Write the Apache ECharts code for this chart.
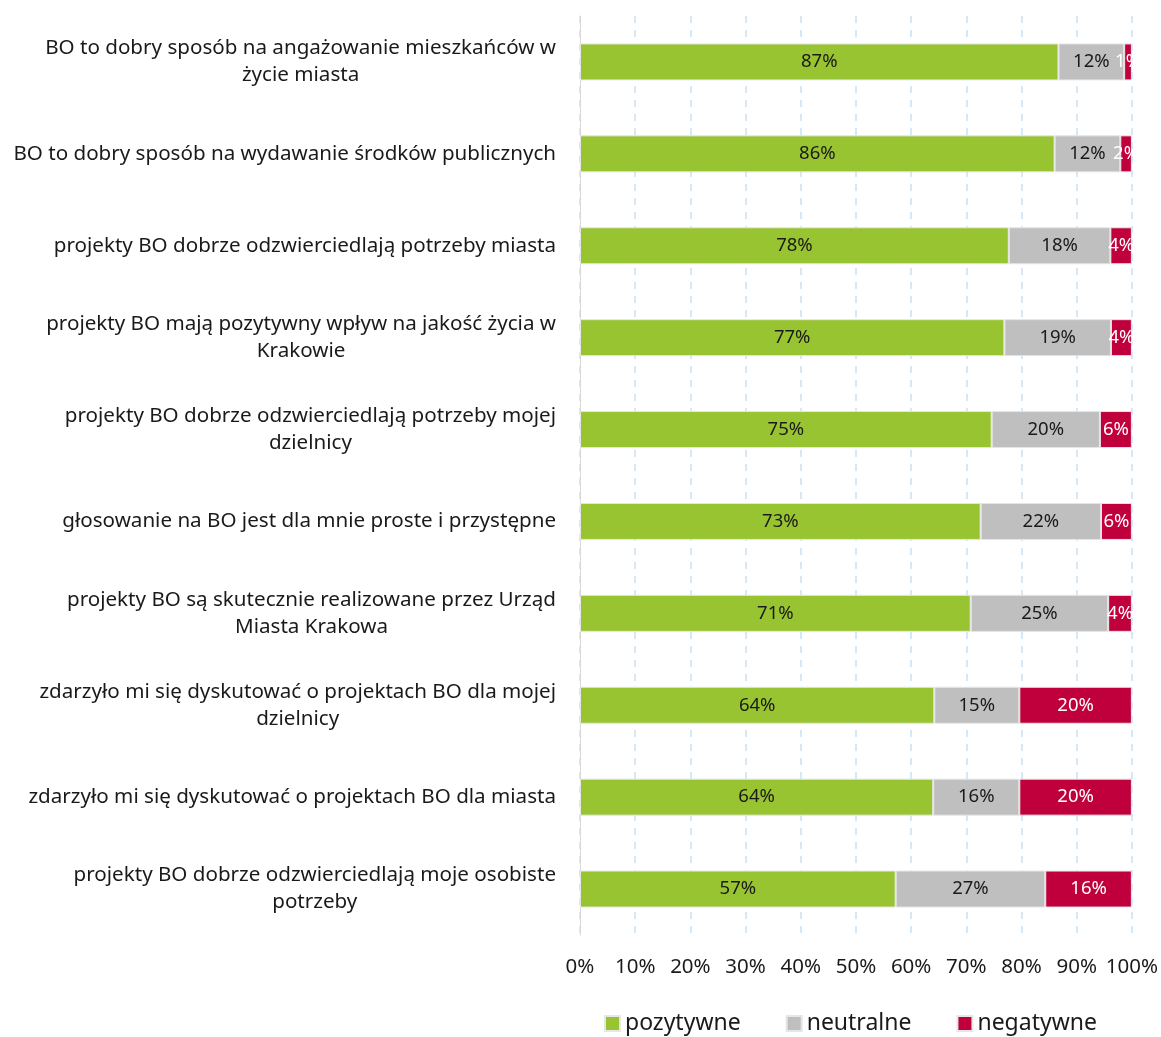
<!DOCTYPE html>
<html>
<head>
<meta charset="utf-8">
<script src="https://cdn.jsdelivr.net/npm/echarts@6/dist/echarts.min.js"></script>
<style>
  html, body { margin: 0; padding: 0; background: #fff; }
  #cn { width: 1161px; height: 1037px; }
</style>
</head>
<body>
<div id="cn"></div>
<script>
'use strict';

// kategorie (od góry do dołu)
const categories = [
    'BO to dobry sposób na angażowanie mieszkańców w\nżycie miasta',
    'BO to dobry sposób na wydawanie środków publicznych',
    'projekty BO dobrze odzwierciedlają potrzeby miasta',
    'projekty BO mają pozytywny wpływ na jakość życia w\nKrakowie',
    'projekty BO dobrze odzwierciedlają potrzeby mojej\ndzielnicy',
    'głosowanie na BO jest dla mnie proste i przystępne',
    'projekty BO są skutecznie realizowane przez Urząd\nMiasta Krakowa',
    'zdarzyło mi się dyskutować o projektach BO dla mojej\ndzielnicy',
    'zdarzyło mi się dyskutować o projektach BO dla miasta',
    'projekty BO dobrze odzwierciedlają moje osobiste\npotrzeby'
];
const positive = [86.7, 86.0, 77.7, 76.9, 74.6, 72.6, 70.8, 64.2, 64.0, 57.2];
const neutral  = [11.9, 11.9, 18.4, 19.3, 19.6, 21.8, 24.9, 15.4, 15.6, 27.1];
const negative = [1.4, 2.1, 3.9, 3.8, 5.8, 5.6, 4.3, 20.4, 20.4, 15.7];
const xTicks = [0, 10, 20, 30, 40, 50, 60, 70, 80, 90, 100];

const FONT = 'Noto Sans';

const mkSeries = (name, data, color, labelColor) => ({
    name: name,
    type: 'bar',
    stack: 'all',
    data: data,
    barWidth: 37,
    itemStyle: {
        color: color,
        borderColor: '#e6e6e6',
        borderWidth: 1
    },
    label: {
        show: true,
        position: 'inside',
        color: labelColor,
        fontFamily: FONT,
        fontSize: 18.5,
        formatter: p => Math.round(p.value) + '%'
    }
});

const chart = echarts.init(document.getElementById('cn'));

chart.setOption({
    animation: false,
    textStyle: { fontFamily: FONT },
    grid: {
        left: 580,
        right: 28,
        top: 16,
        bottom: 102
    },
    xAxis: {
        type: 'value',
        min: xTicks[0],
        max: xTicks[xTicks.length - 1],
        interval: 10,
        axisLine: { show: false },
        axisTick: { show: false },
        axisLabel: {
            margin: 22,
            fontSize: 20.5,
            color: '#1a1a1a',
            formatter: v => v + '%'
        },
        splitLine: {
            show: true,
            lineStyle: { color: '#d6e7f5', width: 2, type: [7, 7] }
        }
    },
    yAxis: {
        type: 'category',
        data: categories,
        inverse: true,
        axisLine: { show: true, lineStyle: { color: '#d9d9d9', width: 1 } },
        axisTick: { show: false },
        axisLabel: {
            margin: 24,
            align: 'right',
            formatter: v => v.split('\n').map(l => '{c|' + l + '}').join('\n'),
            rich: {
                c: {
                    align: 'center',
                    fontSize: 20.6,
                    lineHeight: 27,
                    color: '#1a1a1a',
                    fontFamily: FONT
                }
            }
        }
    },
    legend: {
        top: 1012,
        left: 604,
        padding: 0,
        itemWidth: 15,
        itemHeight: 15,
        itemGap: 45,
        icon: 'rect',
        textStyle: { fontSize: 23, color: '#1a1a1a', fontFamily: FONT },
        data: ['pozytywne', 'neutralne', 'negatywne']
    },
    series: [
        mkSeries('pozytywne', positive, '#99c431', '#1a1a1a'),
        mkSeries('neutralne', neutral, '#bfbfbf', '#1a1a1a'),
        mkSeries('negatywne', negative, '#c0003c', '#ffffff')
    ]
});
</script>
</body>
</html>
